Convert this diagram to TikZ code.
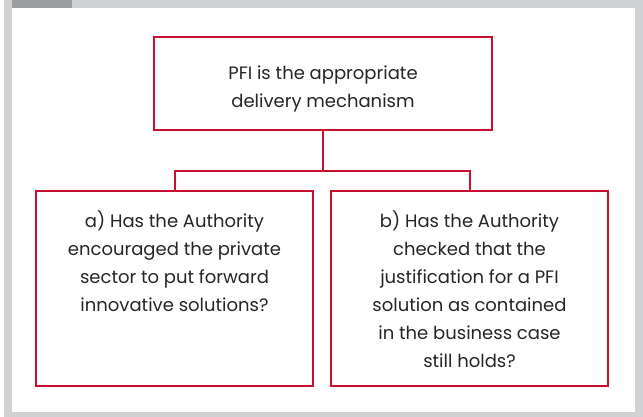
\documentclass[tikz,border=0pt]{standalone}
\usepackage{fontspec}
\setmainfont{Poppins}
\definecolor{pfired}{HTML}{C8102E}
\definecolor{framegray}{HTML}{D1D2D4}
\definecolor{tabgray}{HTML}{9C9D9F}
\newcommand{\firstlinestrut}{\rule{0pt}{14pt}}
\begin{document}
\begin{tikzpicture}[x=1pt,y=-1pt,
  box/.style={draw=pfired,line width=2pt,inner sep=0pt,fill=white},
  link/.style={draw=pfired,line width=2pt},
  txt/.style={align=center,font=\fontsize{18}{28}\selectfont,inner sep=0pt,text=black!85,anchor=north}]
\useasboundingbox (0,0) rectangle (643,417);
\fill[framegray] (4,0) rectangle (643,417);
\fill[white] (11.7,8.3) rectangle (634.7,412);
\fill[tabgray] (11.7,0) rectangle (72,8.3);
\node[box,minimum width=338pt,minimum height=93pt] (top) at (323,83.5) {};
\node[box,minimum width=277pt,minimum height=195pt] (left) at (174.5,288.5) {};
\node[box,minimum width=277pt,minimum height=195pt] (right) at (469.5,288.5) {};
\node[txt] (toptext) at (323,65.5) {\firstlinestrut PFI is the appropriate\\delivery mechanism};
\node[txt] (lefttext) at (174.5,210) {\firstlinestrut a) Has the Authority\\encouraged the private\\sector to put forward\\innovative solutions?};
\node[txt] (righttext) at (469.5,210) {\firstlinestrut b) Has the Authority\\checked that the\\justification for a PFI\\solution as contained\\in the business case\\still holds?};
\coordinate (junction) at (323,171);
\draw[link] (top.south) -- (junction);
\draw[link] (left.north) |- (junction) -| (right.north);
\end{tikzpicture}
\end{document}
